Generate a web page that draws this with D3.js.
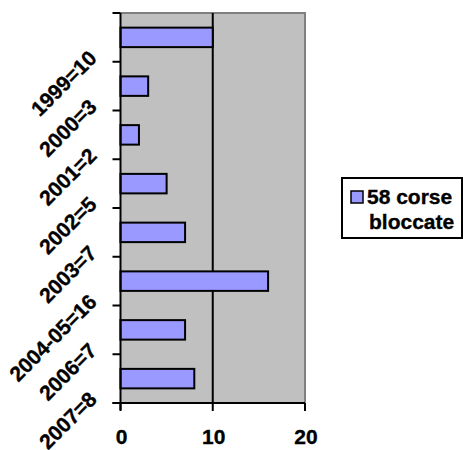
<!DOCTYPE html>
<html><head><meta charset="utf-8">
<script src="https://cdn.jsdelivr.net/npm/d3@7"></script>
<style>body{margin:0;background:#fff}svg{display:block}text{stroke:#000;stroke-width:0.35px}</style>
</head><body>
<script>
const categories = ["1999=10","2000=3","2001=2","2002=5","2003=7","2004-05=16","2006=7","2007=8"];
const values = [10,3,2,5,7,16,7,8];
const xTicks = [0,10,20];
const seriesName = ["58 corse","bloccate"];

const W = 463, H = 450;
const L = 120.5, R = 305, T = 13, B = 403;
const svg = d3.select("body").append("svg").attr("width", W).attr("height", H);
const font = "Arial, 'Liberation Sans', sans-serif";
const fs = 21;

const x = d3.scaleLinear().domain([0,20]).range([L,R]);
const y = d3.scaleBand().domain(categories).range([T,B]).paddingInner(0.6).paddingOuter(0.3);
const yb = d3.scaleBand().domain(categories).range([T,B]);

// plot area
svg.append("rect").attr("x",L).attr("y",T).attr("width",R-L).attr("height",B-T).attr("fill","#C0C0C0");
svg.append("path").attr("d",`M${L},${T}H${R}V${B}`).attr("fill","none").attr("stroke","#808080").attr("stroke-width",2);

// gridlines
svg.append("g").selectAll("line").data(xTicks.filter(d=>d>0 && d<20)).join("line")
  .attr("x1",d=>x(d)).attr("x2",d=>x(d)).attr("y1",T).attr("y2",B)
  .attr("stroke","#000").attr("stroke-width",2);

// bars
svg.append("g").selectAll("rect").data(values).join("rect")
  .attr("x",x(0)).attr("y",(d,i)=>y(categories[i]))
  .attr("width",d=>x(d)-x(0)).attr("height",y.bandwidth())
  .attr("fill","#9999FF").attr("stroke","#000").attr("stroke-width",2);

// y axis
const yTickPos = categories.map(c=>yb(c)).concat([B]);
svg.append("line").attr("x1",L).attr("x2",L).attr("y1",T).attr("y2",B+7).attr("stroke","#000").attr("stroke-width",2);
svg.append("g").selectAll("line").data(yTickPos).join("line")
  .attr("x1",L-8).attr("x2",L).attr("y1",d=>d).attr("y2",d=>d).attr("stroke","#000").attr("stroke-width",2);
svg.append("g").selectAll("text").data(categories).join("text")
  .attr("transform",d=>`translate(98,${yb(d)+yb.bandwidth()/2+22}) rotate(-45)`)
  .attr("text-anchor","end").attr("font-family",font).attr("font-weight","bold").attr("font-size",fs)
  .text(d=>d);

// x axis
svg.append("line").attr("x1",L-8).attr("x2",R).attr("y1",B).attr("y2",B).attr("stroke","#000").attr("stroke-width",2);
svg.append("g").selectAll("line").data(xTicks).join("line")
  .attr("x1",d=>x(d)).attr("x2",d=>x(d)).attr("y1",B).attr("y2",B+8).attr("stroke","#000").attr("stroke-width",2);
svg.append("g").selectAll("text").data(xTicks).join("text")
  .attr("x",d=>x(d)+1).attr("y",444).attr("text-anchor","middle")
  .attr("font-family",font).attr("font-weight","bold").attr("font-size",fs).text(d=>d);

// legend
const lg = svg.append("g");
lg.append("rect").attr("x",342).attr("y",178).attr("width",120).attr("height",60)
  .attr("fill","#fff").attr("stroke","#000").attr("stroke-width",2);
lg.append("rect").attr("x",351).attr("y",191).attr("width",12).attr("height",12)
  .attr("fill","#9999FF").attr("stroke","#000").attr("stroke-width",1.5);
lg.append("text").attr("x",367).attr("y",204).attr("font-family",font).attr("font-weight","bold").attr("font-size",fs).text(seriesName[0]);
lg.append("text").attr("x",369).attr("y",229).attr("font-family",font).attr("font-weight","bold").attr("font-size",fs).text(seriesName[1]);
</script>
</body></html>
